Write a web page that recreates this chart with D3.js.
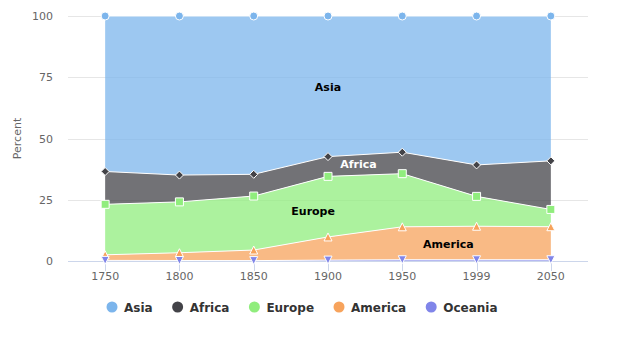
<!DOCTYPE html>
<html>
<head>
<meta charset="utf-8">
<script src="https://cdn.jsdelivr.net/npm/d3@7"></script>
<style>
  body { margin: 0; background: #fff; }
  svg { font-family: "DejaVu Sans", sans-serif; }
</style>
</head>
<body>
<div id="chart"></div>
<script>
// categories and series (population, shown as percent)
var years = ["1750", "1800", "1850", "1900", "1950", "1999", "2050"];
var asia = [502, 635, 809, 947, 1402, 3634, 5268];
var africa = [106, 107, 111, 133, 221, 767, 1766];
var europe = [163, 203, 276, 408, 547, 729, 628];
var america = [18, 31, 54, 156, 339, 818, 1201];
var oceania = [2, 2, 2, 6, 13, 30, 46];

var seriesNames = ["Asia", "Africa", "Europe", "America", "Oceania"];
var seriesColors = ["#7cb5ec", "#434348", "#90ed7d", "#f7a35c", "#8085e9"];
var seriesMarkers = ["circle", "diamond", "square", "triangle", "triangle-down"];
var yTicks = [0, 25, 50, 75, 100];

// area labels: name, category index, percent value
var labelNames = ["Asia", "Africa", "Europe", "America"];
var labelIdx = [3.0, 3.41, 2.8, 4.62];
var labelVal = [71, 39.4, 20.4, 7];
var labelColors = ["#000000", "#ffffff", "#000000", "#000000"];

var width = 625, height = 353;
var plotLeft = 68, plotRight = 588, plotTop = 16, plotBottom = 261;

var allData = [asia, africa, europe, america, oceania];
var rows = years.map(function(yr, i) {
    var r = { year: yr, i: i };
    seriesNames.forEach(function(n, s) { r[n] = allData[s][i]; });
    return r;
});

// bottom to top: Oceania ... Asia
var stack = d3.stack()
    .keys(seriesNames.slice().reverse())
    .offset(d3.stackOffsetExpand);
var stacked = stack(rows);

var x = d3.scaleLinear()
    .domain([-0.5, years.length - 0.5])
    .range([plotLeft, plotRight]);

var y = d3.scaleLinear()
    .domain([0, 100])
    .range([plotBottom, plotTop]);

var svg = d3.select("#chart").append("svg")
    .attr("width", width)
    .attr("height", height);

// grid lines
svg.append("g").selectAll("line")
    .data(yTicks.filter(function(t) { return t > 0; }))
  .enter().append("line")
    .attr("x1", plotLeft).attr("x2", plotRight)
    .attr("y1", function(d) { return Math.round(y(d)) + 0.5; })
    .attr("y2", function(d) { return Math.round(y(d)) + 0.5; })
    .style("stroke", "#e6e6e6")
    .style("stroke-width", 1);

// y labels
svg.append("g").selectAll("text")
    .data(yTicks)
  .enter().append("text")
    .attr("x", 53)
    .attr("y", function(d) { return y(d) + 4; })
    .attr("text-anchor", "end")
    .style("font-size", "11px")
    .style("fill", "#666666")
    .text(function(d) { return d; });

// y title
svg.append("text")
    .attr("transform", "translate(21," + ((plotTop + plotBottom) / 2) + ") rotate(-90)")
    .attr("text-anchor", "middle")
    .style("font-size", "11px")
    .style("fill", "#666666")
    .text("Percent");

// x axis line and ticks
svg.append("line")
    .attr("x1", plotLeft).attr("x2", plotRight)
    .attr("y1", plotBottom + 0.5).attr("y2", plotBottom + 0.5)
    .style("stroke", "#ccd6eb");

svg.append("g").selectAll("line")
    .data(years)
  .enter().append("line")
    .attr("x1", function(d, i) { return Math.round(x(i)) + 0.5; })
    .attr("x2", function(d, i) { return Math.round(x(i)) + 0.5; })
    .attr("y1", plotBottom).attr("y2", plotBottom + 10)
    .style("stroke", "#ccd6eb");

svg.append("g").selectAll("text")
    .data(years)
  .enter().append("text")
    .attr("x", function(d, i) { return x(i); })
    .attr("y", plotBottom + 19)
    .attr("text-anchor", "middle")
    .style("font-size", "11px")
    .style("fill", "#666666")
    .text(function(d) { return d; });

// areas, Asia first (drawn under the rest)
var area = d3.area()
    .x(function(d) { return x(d.data.i); })
    .y0(function(d) { return y(d[0] * 100); })
    .y1(function(d) { return y(d[1] * 100); });

var line = d3.line()
    .x(function(d) { return x(d.data.i); })
    .y(function(d) { return y(d[1] * 100); });

function layerFor(name) {
    return stacked.filter(function(l) { return l.key == name; })[0];
}

seriesNames.forEach(function(name, s) {
    var layer = layerFor(name);
    svg.append("path")
        .datum(layer)
        .attr("d", area)
        .style("fill", seriesColors[s])
        .style("fill-opacity", 0.75);
    svg.append("path")
        .datum(layer)
        .attr("d", line)
        .style("fill", "none")
        .style("stroke", "#ffffff")
        .style("stroke-width", 1);
});

function markerPath(type) {
    var r = 4;
    if (type == "circle") return d3.symbol().type(d3.symbolCircle).size(Math.PI * r * r)();
    if (type == "square") return "M-4,-4L4,-4L4,4L-4,4Z";
    if (type == "diamond") return "M0,-4L4,0L0,4L-4,0Z";
    if (type == "triangle") return "M0,-4L4,4L-4,4Z";
    return "M-4,-4L4,-4L0,4Z";
}

seriesNames.forEach(function(name, s) {
    var layer = layerFor(name);
    svg.append("g").selectAll("path")
        .data(layer)
      .enter().append("path")
        .attr("transform", function(d) {
            return "translate(" + x(d.data.i) + "," + y(d[1] * 100) + ")";
        })
        .attr("d", markerPath(seriesMarkers[s]))
        .style("fill", seriesColors[s])
        .style("stroke", "#ffffff")
        .style("stroke-width", 1);
});

// area labels
svg.append("g").selectAll("text")
    .data(labelNames)
  .enter().append("text")
    .attr("x", function(d, i) { return x(labelIdx[i]); })
    .attr("y", function(d, i) { return y(labelVal[i]) + 4; })
    .attr("text-anchor", "middle")
    .style("font-size", "11px")
    .style("font-weight", "bold")
    .style("fill", function(d, i) { return labelColors[i]; })
    .text(function(d) { return d; });

// legend
var legend = svg.append("g");
var items = legend.selectAll("g")
    .data(seriesNames)
  .enter().append("g");
items.append("circle")
    .attr("r", 5.5)
    .attr("cx", 0).attr("cy", 0)
    .style("fill", function(d, i) { return seriesColors[i]; });
items.append("text")
    .attr("x", 12)
    .attr("y", 4.5)
    .style("font-size", "12px")
    .style("font-weight", "bold")
    .style("fill", "#333333")
    .text(function(d) { return d; });

var pos = 0;
var offsets = [];
items.each(function() {
    offsets.push(pos);
    var w = d3.select(this).select("text").node().getComputedTextLength();
    pos += 12 + w + 25;
});
var total = pos - 25 + 5.5;
var startX = 302 - total / 2 + 5.5;
items.attr("transform", function(d, i) {
    return "translate(" + (startX + offsets[i]) + ",307)";
});
</script>
</body>
</html>
